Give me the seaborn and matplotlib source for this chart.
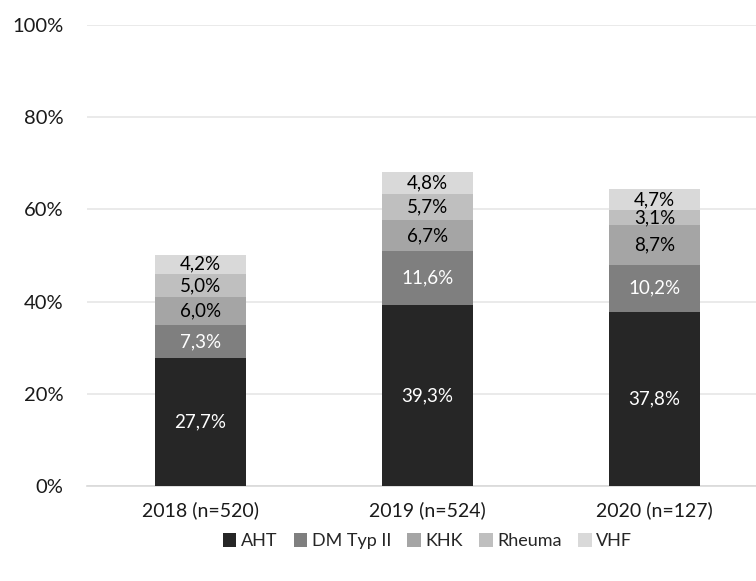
import numpy as np
import pandas as pd
import matplotlib
matplotlib.use("Agg")
import matplotlib.pyplot as plt
import seaborn as sns
from matplotlib.patches import Patch

# Categories and series (percent of patients)
years = ["2018 (n=520)", "2019 (n=524)", "2020 (n=127)"]
series = ["AHT", "DM Typ II", "KHK", "Rheuma", "VHF"]
aht = [27.7, 39.3, 37.8]
dm = [7.3, 11.6, 10.2]
khk = [6.0, 6.7, 8.7]
rheuma = [5.0, 5.7, 3.1]
vhf = [4.2, 4.8, 4.7]
yticks = [0, 20, 40, 60, 80, 100]

colors = ["#262626", "#7f7f7f", "#a5a5a5", "#bfbfbf", "#d9d9d9"]
label_colors = ["white", "white", "black", "black", "black"]

sns.set_theme(style="white")
plt.rcParams["font.family"] = ["Lato", "DejaVu Sans"]

values = np.array([aht, dm, khk, rheuma, vhf])
tops = values.cumsum(axis=0)
bottoms = tops - values

fig = plt.figure(figsize=(7.56, 5.81), dpi=100)
ax = fig.add_axes([0.115, 0.1635, 0.901, 0.7935])

# Stack: draw cumulative heights from the top segment down so each
# lower segment covers the part of the bar beneath it
for i in range(len(series) - 1, -1, -1):
    df = pd.DataFrame({"year": years, "top": tops[i]})
    sns.barplot(data=df, x="year", y="top", color=colors[i], width=0.4,
                saturation=1, ax=ax, zorder=3, linewidth=0)

for i in range(len(series)):
    for j in range(len(years)):
        ax.text(j, bottoms[i, j] + values[i, j] / 2,
                f"{values[i, j]:.1f}%".replace(".", ","),
                ha="center", va="center", fontsize=13.5,
                color=label_colors[i], zorder=4)

ax.set_ylim(0, 100)
ax.set_xlim(-0.5, 2.5)
ax.set_yticks(yticks)
ax.set_yticklabels([f"{t}%" for t in yticks])
ax.yaxis.grid(True, color="#e6e6e6", linewidth=1.2, zorder=0)
ax.set_axisbelow(True)
for s in ["top", "right", "left"]:
    ax.spines[s].set_visible(False)
ax.spines["bottom"].set_color("#d9d9d9")
ax.spines["bottom"].set_linewidth(1.2)
ax.set_xlabel("")
ax.set_ylabel("")
ax.tick_params(axis="x", length=0, labelsize=14, colors="#1a1a1a", pad=11)
ax.tick_params(axis="y", length=0, labelsize=14.5, colors="#1a1a1a", pad=17)

handles = [Patch(facecolor=c, edgecolor="none") for c in colors]
ax.legend(handles, series, loc="center", bbox_to_anchor=(0.5, -0.12),
          ncol=5, frameon=False, fontsize=13, handlelength=0.75,
          handleheight=0.75, handletextpad=0.25, columnspacing=0.9)

fig.savefig("out.png", dpi=100)
